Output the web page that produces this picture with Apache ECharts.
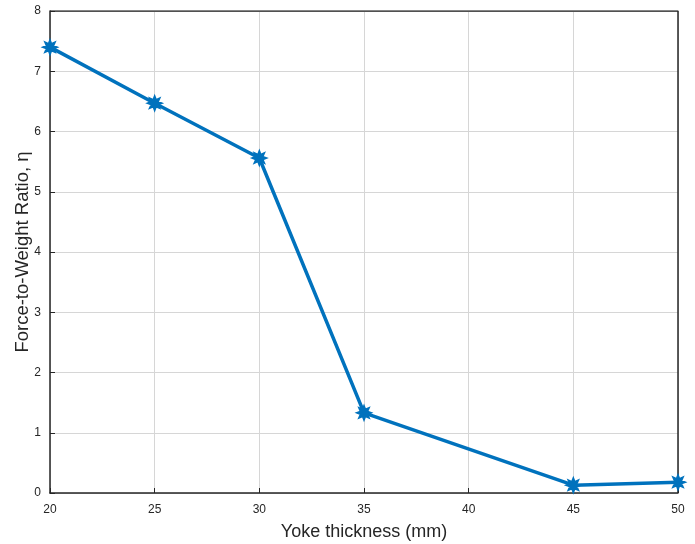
<!DOCTYPE html>
<html>
<head>
<meta charset="utf-8">
<script src="https://cdn.jsdelivr.net/npm/echarts@6/dist/echarts.min.js"></script>
<style>
  html, body { margin: 0; padding: 0; background: #fff; }
  #chart { width: 695px; height: 544px; }
</style>
</head>
<body>
<div id="chart"></div>
<script>
// Yoke thickness (mm) against force-to-weight ratio
const thickness = [20, 25, 30, 35, 45, 50];
const ratio = [7.40, 6.47, 5.56, 1.33, 0.13, 0.18];
const xTicks = [20, 25, 30, 35, 40, 45, 50];
const yTicks = [0, 1, 2, 3, 4, 5, 6, 7, 8];

const blue = '#0072BD';
const font = 'Liberation Sans, Arial, Helvetica, sans-serif';

// chunky asterisk marker
const starPath = 'path://M50,0 L60,26 L85,15 L74,40 L100,50 L74,60 L85,85 L60,74 L50,100 L40,74 L15,85 L26,60 L0,50 L26,40 L15,15 L40,26 Z';

const chart = echarts.init(document.getElementById('chart'), null, { renderer: 'canvas' });
chart.setOption({
  animation: false,
  backgroundColor: '#fff',
  grid: { left: 50, right: 17, top: 11, bottom: 51, containLabel: false, outerBoundsMode: 'none' },
  xAxis: {
    type: 'value',
    min: xTicks[0], max: xTicks[xTicks.length - 1], interval: 5,
    name: 'Yoke thickness (mm)',
    nameLocation: 'middle', nameGap: 30, nameMoveOverlap: false,
    nameTextStyle: { fontFamily: font, fontSize: 18, color: '#262626' },
    axisLine: { show: true, onZero: false, lineStyle: { color: '#262626', width: 1.5 } },
    axisTick: { show: true, inside: true, length: 5, lineStyle: { color: '#262626' } },
    axisLabel: { fontFamily: font, fontSize: 12, color: '#262626', margin: 11 },
    splitLine: { show: true, lineStyle: { color: '#d6d6d6', width: 1 } }
  },
  yAxis: {
    type: 'value',
    min: yTicks[0], max: yTicks[yTicks.length - 1], interval: 1,
    name: 'Force-to-Weight Ratio, η',
    nameLocation: 'middle', nameGap: 18, nameMoveOverlap: false,
    nameTextStyle: { fontFamily: font, fontSize: 18.5, color: '#262626' },
    axisLine: { show: true, onZero: false, lineStyle: { color: '#262626', width: 1.5 } },
    axisTick: { show: true, inside: true, length: 5, lineStyle: { color: '#262626' } },
    axisLabel: { fontFamily: font, fontSize: 12, color: '#262626', margin: 9 },
    splitLine: { show: true, lineStyle: { color: '#d6d6d6', width: 1 } }
  },
  series: [
    {
      type: 'line',
      data: thickness.map((t, i) => [t, ratio[i]]),
      lineStyle: { color: blue, width: 3.5 },
      itemStyle: { color: blue, borderColor: blue, borderWidth: 2.5 },
      symbol: starPath,
      symbolSize: 12,
      showAllSymbol: true,
      clip: false,
      z: 5
    },
    {
      // top and right frame of the plot box
      type: 'line',
      data: [[20, 8], [50, 8], [50, 0]],
      symbol: 'none',
      lineStyle: { color: '#262626', width: 1.5 },
      silent: true,
      z: 3
    }
  ]
});
</script>
</body>
</html>
